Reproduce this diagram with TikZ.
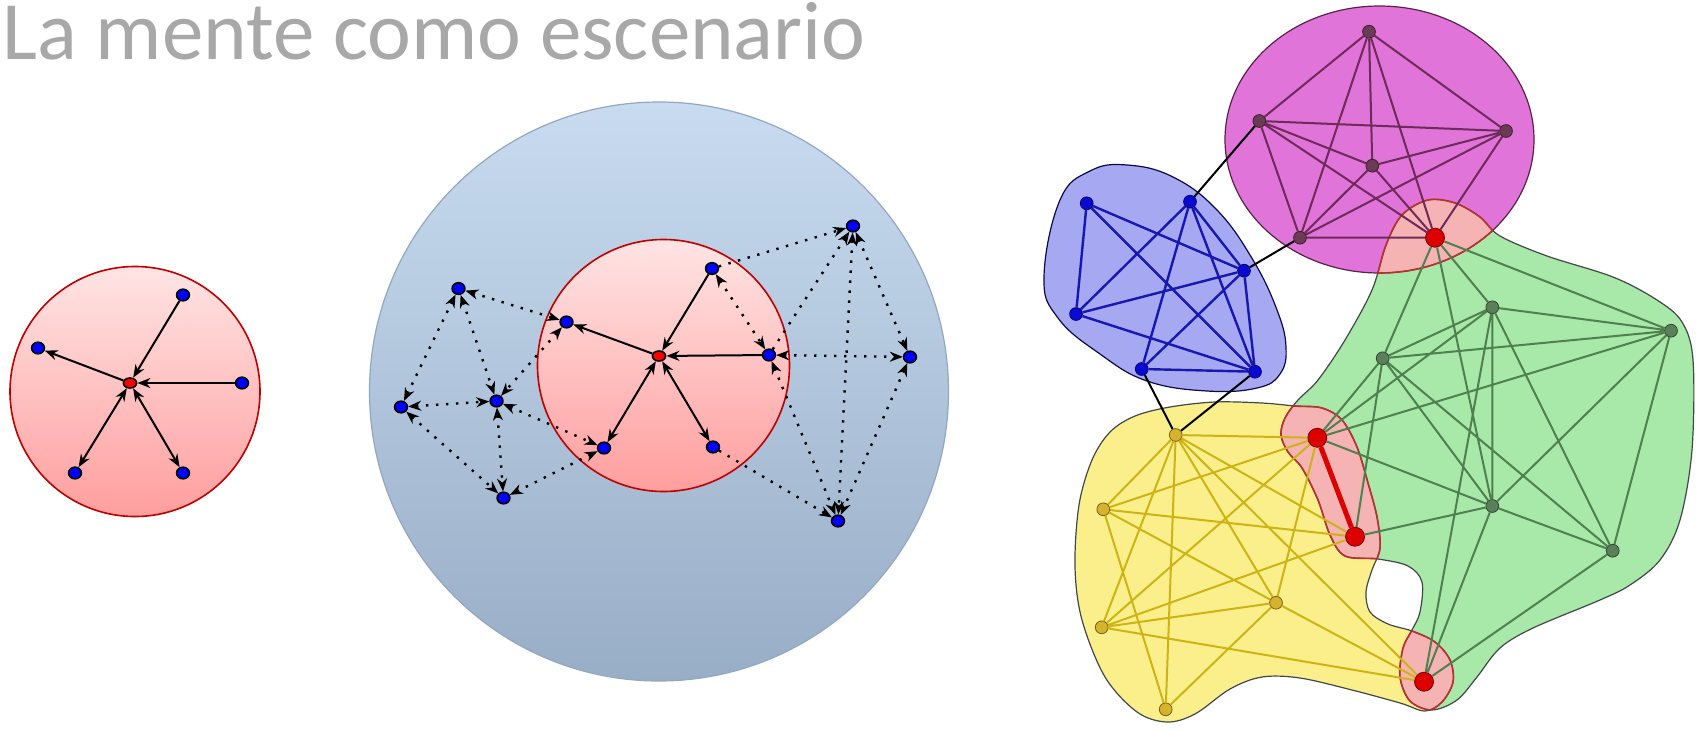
\documentclass[tikz,border=0pt]{standalone}
\usepackage{fontspec}
\setmainfont{Carlito}
\usetikzlibrary{arrows.meta,shapes.geometric}

\definecolor{titlegray}{HTML}{A8A8A8}
\definecolor{mindtop}{HTML}{FFE4E4}
\definecolor{mindbot}{HTML}{FF9E9E}
\definecolor{mindline}{HTML}{C00000}
\definecolor{stagetop}{HTML}{C8DBF0}
\definecolor{stagebot}{HTML}{98AEC6}
\definecolor{stageline}{HTML}{93A8C0}
\definecolor{magfill}{HTML}{E074D8}
\definecolor{bluefill}{HTML}{A6A8F2}
\definecolor{greenfill}{HTML}{A8E8A8}
\definecolor{yellowfill}{HTML}{FBEF8C}
\definecolor{overlapfill}{HTML}{F5B3B3}
\definecolor{overlapline}{HTML}{B83030}
\definecolor{blobline}{HTML}{404848}
\definecolor{magline}{HTML}{6E2A5A}
\definecolor{magnode}{HTML}{6B3B55}
\definecolor{blueline}{HTML}{1818B0}
\definecolor{bluenode}{HTML}{0A0AD0}
\definecolor{greenline}{HTML}{4F804F}
\definecolor{greennode}{HTML}{5A805A}
\definecolor{yellowline}{HTML}{CDB414}
\definecolor{yellownode}{HTML}{D6B22E}
\definecolor{hubred}{HTML}{DC0000}

\tikzset{
    heading/.style = {font=\fontsize{41.5}{46}\selectfont, text=titlegray, inner sep=0pt, text height=0.66em, text depth=0.12em},
    mindball/.style = {top color=mindtop, bottom color=mindbot, draw=mindline, line width=0.8pt},
    stageball/.style = {top color=stagetop, bottom color=stagebot, draw=stageline, line width=0.6pt},
    agent/.style = {ellipse, draw=black, fill=blue, line width=0.8pt, minimum width=6.4pt, minimum height=5.8pt, inner sep=0pt},
    self/.style = {agent, fill=red, minimum width=6.6pt, minimum height=5pt},
    link/.style = {line width=1pt},
    hint/.style = {line width=1.2pt, dash pattern=on 1.2pt off 3.8pt},
    blob/.style = {draw=blobline, line width=0.6pt},
    knot/.style = {circle, inner sep=0pt, minimum size=6.4pt, line width=0.4pt, fill=#1, draw=#1!55!black},
    hub/.style = {knot=hubred, minimum size=9.5pt},
    tie/.style = {line width=1pt, draw=#1},
}

\begin{document}
\begin{tikzpicture}[x=0.5pt, y=-0.5pt, >={Stealth[length=6.5pt,width=5pt]}]
\useasboundingbox (0,0) rectangle (1704,729);
\fill[white] (0,0) rectangle (1704,729);

\node[heading, anchor=base west] (title) at (2,59) {La mente como escenario};

% the mind on its own
\shadedraw[mindball] (135,391.5) circle[radius=62.5pt];
\node[self] (solo) at (130,383) {};
\node[agent] (solo-ne) at (183,295) {};
\node[agent] (solo-w) at (38,348) {};
\node[agent] (solo-e) at (242,383) {};
\node[agent] (solo-sw) at (75,473) {};
\node[agent] (solo-se) at (183,473) {};
\draw[link, ->] (solo-ne) -- (solo);
\draw[link, ->] (solo) -- (solo-w);
\draw[link, ->] (solo-e) -- (solo);
\draw[link, <->] (solo) -- (solo-sw);
\draw[link, <->] (solo) -- (solo-se);

% the mind on its stage
\shadedraw[stageball] (659,391.5) circle[radius=144.75pt];
\shadedraw[mindball] (663.5,365.5) circle[radius=63pt];
\node[self] (ego) at (659,356) {};
\node[agent] (in1) at (566.5,322) {};
\node[agent] (in2) at (712,268.5) {};
\node[agent] (in3) at (769,355) {};
\node[agent] (in4) at (604,448) {};
\node[agent] (in5) at (713,447) {};
\node[agent] (out1) at (853,226) {};
\node[agent] (out2) at (910,357) {};
\node[agent] (out3) at (838,521) {};
\node[agent] (out4) at (458.5,288.5) {};
\node[agent] (out5) at (401,407) {};
\node[agent] (out6) at (496.5,401) {};
\node[agent] (out7) at (503.5,498) {};
\draw[link, ->] (in2) -- (ego);
\draw[link, ->] (ego) -- (in1);
\draw[link, ->] (in3) -- (ego);
\draw[link, <->] (ego) -- (in4);
\draw[link, <->] (ego) -- (in5);
\draw[hint, ->] (in2) -- (out1);
\draw[hint, ->] (in3) -- (out1);
\draw[hint, ->] (in5) -- (out3);
\draw[hint, <->] (in2) -- (in3);
\draw[hint, <->] (in3) -- (out2);
\draw[hint, <->] (in3) -- (out3);
\draw[hint, <->] (out1) -- (out2);
\draw[hint, <->] (out1) -- (out3);
\draw[hint, <->] (out2) -- (out3);
\draw[hint, <->] (out4) -- (in1);
\draw[hint, <->] (in1) -- (out6);
\draw[hint, <->] (out4) -- (out5);
\draw[hint, <->] (out4) -- (out6);
\draw[hint, <->] (out5) -- (out6);
\draw[hint, <->] (out5) -- (out7);
\draw[hint, <->] (out6) -- (out7);
\draw[hint, <->] (out6) -- (in4);
\draw[hint, <->] (in4) -- (out7);

% the communities
\def\magblob{(1379.5,139.5) ellipse[x radius=77.25pt, y radius=66.75pt]}
\def\blueblob{plot[smooth cycle, tension=0.7] coordinates {(1044,277) (1060,200) (1090,171) (1127,165) (1173,177) (1217,210) (1253,260) (1277,310) (1286,347) (1280,374) (1257,388) (1207,391) (1147,381) (1100,354) (1058,318)}}
\def\greenblob{plot[smooth cycle, tension=0.55] coordinates {(1372,290) (1386,245) (1402,215) (1428,200) (1455,203) (1480,217) (1500,236) (1547,256) (1613,277) (1657,300) (1682,322) (1693,360) (1692,450) (1680,520) (1660,560) (1630,585) (1600,600) (1533,628) (1500,648) (1477,677) (1457,700) (1432,710) (1410,701) (1400,677) (1403,648) (1412,630) (1420,612) (1422,582) (1408,566) (1378,559) (1345,556) (1330,535) (1318,500) (1302,468) (1288,452) (1281,435) (1285,418) (1298,400) (1318,380) (1345,340)}}
\def\yellowblob{plot[smooth cycle, tension=0.55] coordinates {(1092,460) (1110,432) (1135,416) (1170,407) (1215,402) (1262,403) (1295,406) (1322,408) (1342,420) (1357,447) (1368,483) (1377,517) (1380,548) (1372,570) (1366,592) (1370,612) (1388,624) (1412,631) (1435,642) (1450,660) (1453,682) (1442,702) (1425,711) (1400,703) (1352,690) (1300,678) (1262,677) (1230,689) (1195,714) (1167,722) (1137,712) (1105,677) (1082,620) (1075,567) (1079,505)}}

\fill[yellowfill] \yellowblob;
\fill[greenfill] \greenblob;
\fill[magfill] \magblob;
\fill[bluefill] \blueblob;
\begin{scope}
    \clip \magblob;
    \fill[overlapfill] \greenblob;
\end{scope}
\begin{scope}
    \clip \yellowblob;
    \fill[overlapfill] \greenblob;
\end{scope}
\draw[blob] \yellowblob;
\draw[blob] \greenblob;
\draw[blob, draw=magline!80!black] \magblob;
\draw[blob, draw=blueline!40!black] \blueblob;
\begin{scope}
    \clip \magblob;
    \draw[blob, draw=overlapline, line width=0.8pt] \greenblob;
\end{scope}
\begin{scope}
    \clip \greenblob;
    \draw[blob, draw=overlapline, line width=0.8pt] \magblob;
    \draw[blob, draw=overlapline, line width=0.8pt] \yellowblob;
\end{scope}
\begin{scope}
    \clip \yellowblob;
    \draw[blob, draw=overlapline, line width=0.8pt] \greenblob;
\end{scope}

\node[knot=magnode] (p1) at (1369,31.7) {};
\node[knot=magnode] (p2) at (1259.3,121) {};
\node[knot=magnode] (p3) at (1506,131) {};
\node[knot=magnode] (p4) at (1372.3,165.7) {};
\node[knot=magnode] (p5) at (1300,237.7) {};
\node[knot=bluenode] (b1) at (1086.7,203.3) {};
\node[knot=bluenode] (b2) at (1190,201.7) {};
\node[knot=bluenode] (b3) at (1244,270.7) {};
\node[knot=bluenode] (b4) at (1076,314) {};
\node[knot=bluenode] (b5) at (1141.7,369) {};
\node[knot=bluenode] (b6) at (1255,371.7) {};
\node[knot=greennode] (g1) at (1492.3,307.3) {};
\node[knot=greennode] (g2) at (1671,330.7) {};
\node[knot=greennode] (g3) at (1382.7,358.3) {};
\node[knot=greennode] (g4) at (1492.3,506) {};
\node[knot=greennode] (g5) at (1612.7,550.7) {};
\node[knot=yellownode] (y1) at (1175.7,435) {};
\node[knot=yellownode] (y2) at (1103.3,509.3) {};
\node[knot=yellownode] (y3) at (1101.7,627.3) {};
\node[knot=yellownode] (y4) at (1276,602.7) {};
\node[knot=yellownode] (y5) at (1165.7,709.3) {};
\node[hub] (r1) at (1435,237.7) {};
\node[hub] (r2) at (1317.3,437.8) {};
\node[hub] (r3) at (1355,536.7) {};
\node[hub] (r4) at (1424,681.7) {};

\draw[tie=yellowline] (y1) -- (r2) (y1) -- (r3) (y1) -- (r4) (y1) -- (y2) (y1) -- (y3)
    (y1) -- (y4) (y1) -- (y5) (y2) -- (r2) (y2) -- (r3) (y2) -- (y4) (y2) -- (y5)
    (y3) -- (r2) (y3) -- (r3) (y3) -- (y4) (y3) -- (r4) (y4) -- (r2) (y4) -- (r4)
    (y4) -- (y5);
\draw[tie=greenline] (r1) -- (g3) (r1) -- (g1) (r1) -- (g2) (r1) -- (g4)
    (g3) -- (g1) (g3) -- (g2) (g3) -- (r2) (g3) -- (r3) (g3) -- (g4) (g3) -- (g5)
    (g1) -- (g2) (g1) -- (r2) (g1) -- (g4) (g1) -- (g5) (g1) -- (r4)
    (g2) -- (r2) (g2) -- (g4) (g2) -- (g5) (r2) -- (g4) (r3) -- (g4)
    (g4) -- (g5) (g4) -- (r4) (g5) -- (r4);
\draw[tie=magline] (p1) -- (p2) (p1) -- (p3) (p1) -- (p4) (p1) -- (p5) (p1) -- (r1)
    (p2) -- (p3) (p2) -- (p4) (p2) -- (p5) (p2) -- (r1) (p3) -- (p4) (p3) -- (p5)
    (p3) -- (r1) (p4) -- (p5) (p4) -- (r1) (p5) -- (r1);
\draw[tie=blueline, line width=1.2pt] (b1) -- (b4) (b1) -- (b3) (b1) -- (b6) (b2) -- (b4)
    (b2) -- (b5) (b2) -- (b3) (b2) -- (b6) (b4) -- (b3) (b4) -- (b6) (b5) -- (b3)
    (b5) -- (b6) (b3) -- (b6);
\draw[tie=black] (b2) -- (p2) (b3) -- (p5) (b5) -- (y1) (b6) -- (y1);
\draw[tie=hubred, line width=2.5pt] (r2) -- (r3);
\end{tikzpicture}
\end{document}
